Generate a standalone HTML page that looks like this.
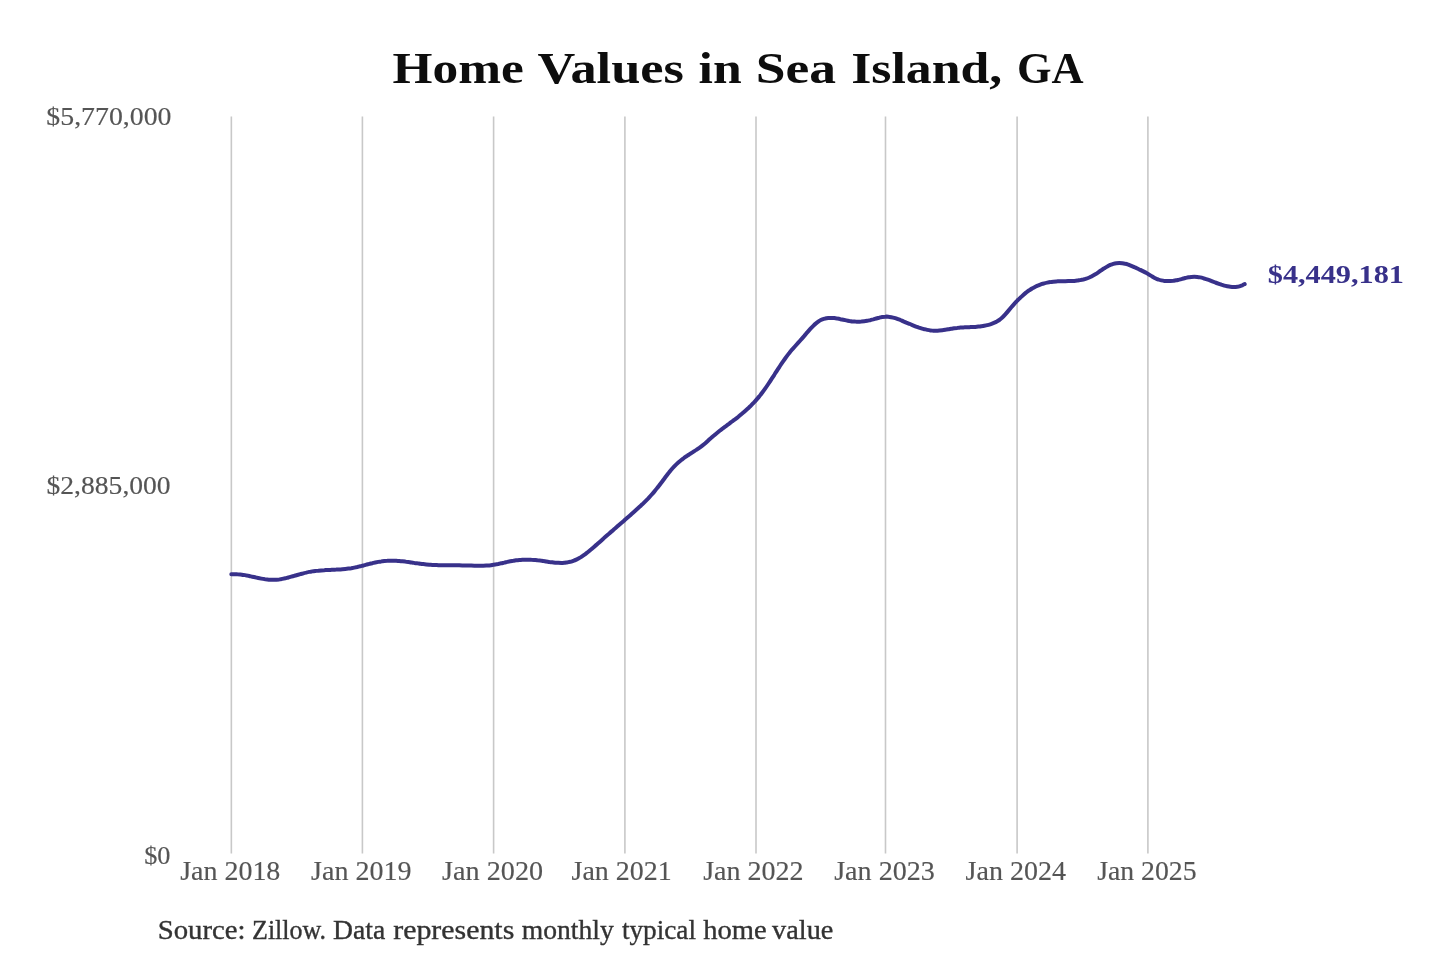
<!DOCTYPE html>
<html><head><meta charset="utf-8"><style>
html,body{margin:0;padding:0;background:#fff;width:1440px;height:960px;overflow:hidden}
svg{display:block;will-change:transform}
text{font-family:"Liberation Serif",serif}
</style></head><body>
<svg width="1440" height="960" viewBox="0 0 1440 960">
<rect width="1440" height="960" fill="#fff"/>
<g stroke="#c8c8c8" stroke-width="1.6">
<line x1="231.35" y1="116.5" x2="231.35" y2="853.5"/>
<line x1="362.40" y1="116.5" x2="362.40" y2="853.5"/>
<line x1="493.60" y1="116.5" x2="493.60" y2="853.5"/>
<line x1="624.90" y1="116.5" x2="624.90" y2="853.5"/>
<line x1="756.00" y1="116.5" x2="756.00" y2="853.5"/>
<line x1="885.50" y1="116.5" x2="885.50" y2="853.5"/>
<line x1="1017.10" y1="116.5" x2="1017.10" y2="853.5"/>
<line x1="1147.90" y1="116.5" x2="1147.90" y2="853.5"/>
</g>
<text x="392.56" y="82.75" font-size="43.4" font-weight="bold" fill="#0d0d0d" textLength="131.21" lengthAdjust="spacingAndGlyphs">Home</text>
<text x="537.43" y="82.75" font-size="43.4" font-weight="bold" fill="#0d0d0d" textLength="146.46" lengthAdjust="spacingAndGlyphs">Values</text>
<text x="698.57" y="82.75" font-size="43.4" font-weight="bold" fill="#0d0d0d" textLength="43.12" lengthAdjust="spacingAndGlyphs">in</text>
<text x="755.66" y="82.75" font-size="43.4" font-weight="bold" fill="#0d0d0d" textLength="80.38" lengthAdjust="spacingAndGlyphs">Sea</text>
<text x="851.17" y="82.75" font-size="43.4" font-weight="bold" fill="#0d0d0d" textLength="151.08" lengthAdjust="spacingAndGlyphs">Island,</text>
<text x="1017.01" y="82.75" font-size="43.4" font-weight="bold" fill="#0d0d0d" textLength="66.59" lengthAdjust="spacingAndGlyphs">GA</text>
<text x="46.35" y="124.8" font-size="26" font-weight="normal" fill="#555" stroke="#555" stroke-width="0.15" textLength="125.08" lengthAdjust="spacingAndGlyphs">$5,770,000</text>
<text x="46.56" y="493.8" font-size="26" font-weight="normal" fill="#555" stroke="#555" stroke-width="0.15" textLength="124.10" lengthAdjust="spacingAndGlyphs">$2,885,000</text>
<text x="144.21" y="863.6" font-size="26" font-weight="normal" fill="#555" stroke="#555" stroke-width="0.15" textLength="26.27" lengthAdjust="spacingAndGlyphs">$0</text>
<text x="180.17" y="879.7" font-size="26.5" font-weight="normal" fill="#555" stroke="#555" stroke-width="0.15" textLength="100.20" lengthAdjust="spacingAndGlyphs">Jan 2018</text>
<text x="311.14" y="879.7" font-size="26.5" font-weight="normal" fill="#555" stroke="#555" stroke-width="0.15" textLength="100.47" lengthAdjust="spacingAndGlyphs">Jan 2019</text>
<text x="442.14" y="879.7" font-size="26.5" font-weight="normal" fill="#555" stroke="#555" stroke-width="0.15" textLength="101.02" lengthAdjust="spacingAndGlyphs">Jan 2020</text>
<text x="571.59" y="879.7" font-size="26.5" font-weight="normal" fill="#555" stroke="#555" stroke-width="0.15" textLength="100.18" lengthAdjust="spacingAndGlyphs">Jan 2021</text>
<text x="703.20" y="879.7" font-size="26.5" font-weight="normal" fill="#555" stroke="#555" stroke-width="0.15" textLength="100.41" lengthAdjust="spacingAndGlyphs">Jan 2022</text>
<text x="834.17" y="879.7" font-size="26.5" font-weight="normal" fill="#555" stroke="#555" stroke-width="0.15" textLength="100.71" lengthAdjust="spacingAndGlyphs">Jan 2023</text>
<text x="965.61" y="879.7" font-size="26.5" font-weight="normal" fill="#555" stroke="#555" stroke-width="0.15" textLength="100.32" lengthAdjust="spacingAndGlyphs">Jan 2024</text>
<text x="1097.17" y="879.7" font-size="26.5" font-weight="normal" fill="#555" stroke="#555" stroke-width="0.15" textLength="99.39" lengthAdjust="spacingAndGlyphs">Jan 2025</text>
<text x="1267.79" y="283.0" font-size="26" font-weight="bold" fill="#38318a" textLength="136.19" lengthAdjust="spacingAndGlyphs">$4,449,181</text>
<text x="157.70" y="938.8" font-size="27" font-weight="normal" fill="#333" stroke="#333" stroke-width="0.35" textLength="87.89" lengthAdjust="spacingAndGlyphs">Source:</text>
<text x="252.03" y="938.8" font-size="27" font-weight="normal" fill="#333" stroke="#333" stroke-width="0.35" textLength="74.06" lengthAdjust="spacingAndGlyphs">Zillow.</text>
<text x="333.06" y="938.8" font-size="27" font-weight="normal" fill="#333" stroke="#333" stroke-width="0.35" textLength="52.22" lengthAdjust="spacingAndGlyphs">Data</text>
<text x="393.20" y="938.8" font-size="27" font-weight="normal" fill="#333" stroke="#333" stroke-width="0.35" textLength="121.10" lengthAdjust="spacingAndGlyphs">represents</text>
<text x="521.81" y="938.8" font-size="27" font-weight="normal" fill="#333" stroke="#333" stroke-width="0.35" textLength="91.95" lengthAdjust="spacingAndGlyphs">monthly</text>
<text x="621.95" y="938.8" font-size="27" font-weight="normal" fill="#333" stroke="#333" stroke-width="0.35" textLength="74.08" lengthAdjust="spacingAndGlyphs">typical</text>
<text x="703.31" y="938.8" font-size="27" font-weight="normal" fill="#333" stroke="#333" stroke-width="0.35" textLength="63.49" lengthAdjust="spacingAndGlyphs">home</text>
<text x="772.14" y="938.8" font-size="27" font-weight="normal" fill="#333" stroke="#333" stroke-width="0.35" textLength="61.23" lengthAdjust="spacingAndGlyphs">value</text>

<path d="M231.3,574.3 C231.8,574.3 233.3,574.2 234.3,574.2 C235.3,574.2 236.3,574.2 237.3,574.3 C238.3,574.3 239.3,574.4 240.3,574.5 C241.3,574.6 242.3,574.8 243.3,574.9 C244.3,575.1 245.3,575.3 246.3,575.4 C247.3,575.6 248.3,575.8 249.3,576.0 C250.3,576.2 251.3,576.5 252.3,576.7 C253.3,576.9 254.3,577.1 255.3,577.3 C256.3,577.6 257.3,577.8 258.3,578.0 C259.3,578.2 260.3,578.4 261.3,578.6 C262.3,578.8 263.3,579.0 264.3,579.1 C265.3,579.3 266.3,579.4 267.3,579.5 C268.3,579.6 269.3,579.7 270.3,579.8 C271.3,579.8 272.3,579.9 273.3,579.8 C274.3,579.8 275.3,579.8 276.3,579.7 C277.3,579.6 278.3,579.5 279.3,579.4 C280.3,579.2 281.3,579.1 282.3,578.9 C283.3,578.7 284.3,578.5 285.3,578.3 C286.3,578.0 287.3,577.8 288.3,577.5 C289.3,577.3 290.3,577.0 291.3,576.7 C292.3,576.4 293.3,576.1 294.3,575.8 C295.3,575.6 296.3,575.3 297.3,575.0 C298.3,574.7 299.3,574.4 300.3,574.1 C301.3,573.8 302.3,573.6 303.3,573.3 C304.3,573.0 305.3,572.8 306.3,572.6 C307.3,572.3 308.3,572.1 309.3,571.9 C310.3,571.7 311.3,571.6 312.3,571.4 C313.3,571.2 314.3,571.1 315.3,571.0 C316.3,570.9 317.3,570.7 318.3,570.7 C319.3,570.6 320.3,570.5 321.3,570.4 C322.3,570.3 323.3,570.2 324.3,570.2 C325.3,570.1 326.3,570.1 327.3,570.0 C328.3,570.0 329.3,569.9 330.3,569.9 C331.3,569.8 332.3,569.8 333.3,569.7 C334.3,569.7 335.3,569.6 336.3,569.6 C337.3,569.5 338.3,569.5 339.3,569.4 C340.3,569.4 341.3,569.3 342.3,569.2 C343.3,569.1 344.3,569.0 345.3,568.9 C346.3,568.8 347.3,568.7 348.3,568.6 C349.3,568.5 350.3,568.3 351.3,568.2 C352.3,568.0 353.3,567.8 354.3,567.6 C355.3,567.4 356.3,567.2 357.3,567.0 C358.3,566.7 359.3,566.5 360.3,566.3 C361.3,566.0 362.3,565.8 363.3,565.5 C364.3,565.2 365.3,565.0 366.3,564.7 C367.3,564.4 368.3,564.2 369.3,563.9 C370.3,563.7 371.3,563.4 372.3,563.2 C373.3,562.9 374.3,562.7 375.3,562.5 C376.3,562.3 377.3,562.1 378.3,561.9 C379.3,561.7 380.3,561.5 381.3,561.4 C382.3,561.2 383.3,561.1 384.3,561.0 C385.3,560.9 386.3,560.8 387.3,560.8 C388.3,560.7 389.3,560.7 390.3,560.7 C391.3,560.6 392.3,560.7 393.3,560.7 C394.3,560.7 395.3,560.7 396.3,560.8 C397.3,560.9 398.3,560.9 399.3,561.0 C400.3,561.1 401.3,561.2 402.3,561.3 C403.3,561.4 404.3,561.5 405.3,561.6 C406.3,561.8 407.3,561.9 408.3,562.0 C409.3,562.1 410.3,562.3 411.3,562.4 C412.3,562.6 413.3,562.7 414.3,562.9 C415.3,563.0 416.3,563.1 417.3,563.3 C418.3,563.4 419.3,563.6 420.3,563.7 C421.3,563.8 422.3,564.0 423.3,564.1 C424.3,564.2 425.3,564.3 426.3,564.4 C427.3,564.5 428.3,564.6 429.3,564.7 C430.3,564.8 431.3,564.8 432.3,564.9 C433.3,565.0 434.3,565.0 435.3,565.0 C436.3,565.1 437.3,565.1 438.3,565.2 C439.3,565.2 440.3,565.2 441.3,565.2 C442.3,565.3 443.3,565.3 444.3,565.3 C445.3,565.3 446.3,565.3 447.3,565.3 C448.3,565.3 449.3,565.3 450.3,565.3 C451.3,565.3 452.3,565.3 453.3,565.3 C454.3,565.3 455.3,565.3 456.3,565.3 C457.3,565.3 458.3,565.3 459.3,565.3 C460.3,565.4 461.3,565.4 462.3,565.4 C463.3,565.4 464.3,565.4 465.3,565.4 C466.3,565.5 467.3,565.5 468.3,565.5 C469.3,565.6 470.3,565.6 471.3,565.6 C472.3,565.7 473.3,565.7 474.3,565.7 C475.3,565.7 476.3,565.8 477.3,565.8 C478.3,565.8 479.3,565.8 480.3,565.8 C481.3,565.8 482.3,565.8 483.3,565.7 C484.3,565.7 485.3,565.7 486.3,565.6 C487.3,565.5 488.3,565.5 489.3,565.4 C490.3,565.3 491.3,565.2 492.3,565.0 C493.3,564.9 494.3,564.7 495.3,564.5 C496.3,564.4 497.3,564.2 498.3,564.0 C499.3,563.7 500.3,563.5 501.3,563.3 C502.3,563.1 503.3,562.8 504.3,562.6 C505.3,562.4 506.3,562.1 507.3,561.9 C508.3,561.7 509.3,561.5 510.3,561.3 C511.3,561.1 512.3,560.9 513.3,560.8 C514.3,560.6 515.3,560.5 516.3,560.3 C517.3,560.2 518.3,560.1 519.3,560.0 C520.3,559.9 521.3,559.9 522.3,559.8 C523.3,559.8 524.3,559.7 525.3,559.7 C526.3,559.7 527.3,559.7 528.3,559.7 C529.3,559.7 530.3,559.7 531.3,559.8 C532.3,559.8 533.3,559.9 534.3,560.0 C535.3,560.1 536.3,560.1 537.3,560.3 C538.3,560.4 539.3,560.5 540.3,560.6 C541.3,560.8 542.3,560.9 543.3,561.1 C544.3,561.2 545.3,561.4 546.3,561.5 C547.3,561.7 548.3,561.8 549.3,562.0 C550.3,562.1 551.3,562.2 552.3,562.3 C553.3,562.5 554.3,562.6 555.3,562.7 C556.3,562.7 557.3,562.8 558.3,562.8 C559.3,562.9 560.3,562.9 561.3,562.9 C562.3,562.9 563.3,562.8 564.3,562.7 C565.3,562.7 566.3,562.5 567.3,562.4 C568.3,562.2 569.3,562.0 570.3,561.8 C571.3,561.5 572.3,561.2 573.3,560.8 C574.3,560.5 575.3,560.1 576.3,559.6 C577.3,559.1 578.3,558.6 579.3,558.0 C580.3,557.5 581.3,556.8 582.3,556.2 C583.3,555.5 584.3,554.8 585.3,554.1 C586.3,553.3 587.3,552.6 588.3,551.8 C589.3,551.0 590.3,550.1 591.3,549.3 C592.3,548.4 593.3,547.6 594.3,546.7 C595.3,545.8 596.3,544.9 597.3,544.1 C598.3,543.2 599.3,542.3 600.3,541.4 C601.3,540.5 602.3,539.6 603.3,538.7 C604.3,537.9 605.3,537.0 606.3,536.1 C607.3,535.2 608.3,534.3 609.3,533.5 C610.3,532.6 611.3,531.7 612.3,530.9 C613.3,530.0 614.3,529.1 615.3,528.3 C616.3,527.4 617.3,526.5 618.3,525.6 C619.3,524.8 620.3,523.9 621.3,523.0 C622.3,522.2 623.3,521.3 624.3,520.4 C625.3,519.6 626.3,518.7 627.3,517.8 C628.3,516.9 629.3,516.1 630.3,515.2 C631.3,514.3 632.3,513.4 633.3,512.5 C634.3,511.6 635.3,510.7 636.3,509.8 C637.3,508.9 638.3,508.0 639.3,507.1 C640.3,506.2 641.3,505.2 642.3,504.3 C643.3,503.3 644.3,502.3 645.3,501.3 C646.3,500.3 647.3,499.3 648.3,498.3 C649.3,497.2 650.3,496.1 651.3,495.0 C652.3,493.9 653.3,492.8 654.3,491.6 C655.3,490.4 656.3,489.2 657.3,487.9 C658.3,486.7 659.3,485.4 660.3,484.0 C661.3,482.7 662.3,481.4 663.3,480.0 C664.3,478.7 665.3,477.3 666.3,476.0 C667.3,474.7 668.3,473.4 669.3,472.1 C670.3,470.9 671.3,469.7 672.3,468.5 C673.3,467.4 674.3,466.3 675.3,465.3 C676.3,464.3 677.3,463.4 678.3,462.5 C679.3,461.6 680.3,460.8 681.3,460.0 C682.3,459.2 683.3,458.5 684.3,457.7 C685.3,457.0 686.3,456.3 687.3,455.7 C688.3,455.0 689.3,454.4 690.3,453.7 C691.3,453.1 692.3,452.5 693.3,451.8 C694.3,451.2 695.3,450.5 696.3,449.9 C697.3,449.2 698.3,448.5 699.3,447.8 C700.3,447.1 701.3,446.4 702.3,445.6 C703.3,444.8 704.3,444.0 705.3,443.2 C706.3,442.3 707.3,441.4 708.3,440.5 C709.3,439.6 710.3,438.6 711.3,437.8 C712.3,436.9 713.3,436.0 714.3,435.2 C715.3,434.3 716.3,433.5 717.3,432.7 C718.3,431.9 719.3,431.1 720.3,430.3 C721.3,429.6 722.3,428.8 723.3,428.0 C724.3,427.3 725.3,426.5 726.3,425.8 C727.3,425.1 728.3,424.3 729.3,423.6 C730.3,422.8 731.3,422.1 732.3,421.3 C733.3,420.6 734.3,419.8 735.3,419.1 C736.3,418.3 737.3,417.5 738.3,416.8 C739.3,416.0 740.3,415.2 741.3,414.3 C742.3,413.5 743.3,412.7 744.3,411.8 C745.3,410.9 746.3,410.0 747.3,409.1 C748.3,408.2 749.3,407.2 750.3,406.3 C751.3,405.3 752.3,404.3 753.3,403.2 C754.3,402.1 755.3,401.1 756.3,399.9 C757.3,398.8 758.3,397.6 759.3,396.4 C760.3,395.1 761.3,393.9 762.3,392.5 C763.3,391.2 764.3,389.8 765.3,388.4 C766.3,387.0 767.3,385.5 768.3,384.0 C769.3,382.5 770.3,381.0 771.3,379.4 C772.3,377.9 773.3,376.3 774.3,374.8 C775.3,373.2 776.3,371.7 777.3,370.1 C778.3,368.6 779.3,367.0 780.3,365.5 C781.3,364.0 782.3,362.5 783.3,361.1 C784.3,359.7 785.3,358.3 786.3,356.9 C787.3,355.5 788.3,354.2 789.3,353.0 C790.3,351.7 791.3,350.5 792.3,349.3 C793.3,348.2 794.3,347.1 795.3,346.0 C796.3,344.9 797.3,343.8 798.3,342.7 C799.3,341.6 800.3,340.5 801.3,339.3 C802.3,338.2 803.3,337.0 804.3,335.9 C805.3,334.7 806.3,333.5 807.3,332.3 C808.3,331.2 809.3,330.0 810.3,328.9 C811.3,327.8 812.3,326.8 813.3,325.8 C814.3,324.8 815.3,323.9 816.3,323.1 C817.3,322.3 818.3,321.6 819.3,320.9 C820.3,320.3 821.3,319.8 822.3,319.4 C823.3,319.0 824.3,318.7 825.3,318.5 C826.3,318.2 827.3,318.1 828.3,318.0 C829.3,317.9 830.3,317.9 831.3,317.9 C832.3,317.9 833.3,318.0 834.3,318.1 C835.3,318.2 836.3,318.4 837.3,318.6 C838.3,318.7 839.3,318.9 840.3,319.2 C841.3,319.4 842.3,319.6 843.3,319.8 C844.3,320.0 845.3,320.2 846.3,320.4 C847.3,320.6 848.3,320.8 849.3,321.0 C850.3,321.1 851.3,321.3 852.3,321.4 C853.3,321.5 854.3,321.5 855.3,321.6 C856.3,321.6 857.3,321.7 858.3,321.7 C859.3,321.7 860.3,321.6 861.3,321.6 C862.3,321.5 863.3,321.4 864.3,321.3 C865.3,321.2 866.3,321.0 867.3,320.8 C868.3,320.7 869.3,320.4 870.3,320.2 C871.3,319.9 872.3,319.6 873.3,319.4 C874.3,319.1 875.3,318.8 876.3,318.5 C877.3,318.2 878.3,317.9 879.3,317.7 C880.3,317.4 881.3,317.2 882.3,317.0 C883.3,316.8 884.3,316.7 885.3,316.7 C886.3,316.6 887.3,316.6 888.3,316.7 C889.3,316.8 890.3,317.0 891.3,317.2 C892.3,317.4 893.3,317.6 894.3,317.9 C895.3,318.2 896.3,318.5 897.3,318.9 C898.3,319.3 899.3,319.6 900.3,320.0 C901.3,320.4 902.3,320.9 903.3,321.3 C904.3,321.7 905.3,322.1 906.3,322.6 C907.3,323.0 908.3,323.4 909.3,323.8 C910.3,324.3 911.3,324.7 912.3,325.1 C913.3,325.5 914.3,325.9 915.3,326.3 C916.3,326.7 917.3,327.0 918.3,327.4 C919.3,327.7 920.3,328.1 921.3,328.4 C922.3,328.7 923.3,329.0 924.3,329.2 C925.3,329.5 926.3,329.7 927.3,329.9 C928.3,330.1 929.3,330.3 930.3,330.4 C931.3,330.6 932.3,330.6 933.3,330.7 C934.3,330.7 935.3,330.7 936.3,330.7 C937.3,330.7 938.3,330.6 939.3,330.5 C940.3,330.4 941.3,330.3 942.3,330.2 C943.3,330.1 944.3,329.9 945.3,329.7 C946.3,329.6 947.3,329.4 948.3,329.2 C949.3,329.0 950.3,328.9 951.3,328.7 C952.3,328.5 953.3,328.4 954.3,328.2 C955.3,328.1 956.3,328.0 957.3,327.9 C958.3,327.7 959.3,327.7 960.3,327.6 C961.3,327.5 962.3,327.5 963.3,327.4 C964.3,327.4 965.3,327.3 966.3,327.3 C967.3,327.3 968.3,327.2 969.3,327.2 C970.3,327.1 971.3,327.1 972.3,327.0 C973.3,327.0 974.3,326.9 975.3,326.9 C976.3,326.8 977.3,326.7 978.3,326.6 C979.3,326.5 980.3,326.4 981.3,326.2 C982.3,326.1 983.3,326.0 984.3,325.8 C985.3,325.6 986.3,325.4 987.3,325.1 C988.3,324.9 989.3,324.6 990.3,324.3 C991.3,324.0 992.3,323.6 993.3,323.2 C994.3,322.8 995.3,322.4 996.3,321.9 C997.3,321.3 998.3,320.7 999.3,320.0 C1000.3,319.3 1001.3,318.4 1002.3,317.5 C1003.3,316.6 1004.3,315.5 1005.3,314.4 C1006.3,313.3 1007.3,312.1 1008.3,310.9 C1009.3,309.7 1010.3,308.5 1011.3,307.3 C1012.3,306.1 1013.3,305.0 1014.3,303.9 C1015.3,302.8 1016.3,301.7 1017.3,300.7 C1018.3,299.6 1019.3,298.6 1020.3,297.7 C1021.3,296.7 1022.3,295.8 1023.3,294.9 C1024.3,294.0 1025.3,293.2 1026.3,292.4 C1027.3,291.7 1028.3,290.9 1029.3,290.3 C1030.3,289.6 1031.3,288.9 1032.3,288.4 C1033.3,287.8 1034.3,287.2 1035.3,286.7 C1036.3,286.2 1037.3,285.8 1038.3,285.4 C1039.3,284.9 1040.3,284.6 1041.3,284.2 C1042.3,283.9 1043.3,283.6 1044.3,283.3 C1045.3,283.0 1046.3,282.8 1047.3,282.6 C1048.3,282.4 1049.3,282.2 1050.3,282.1 C1051.3,281.9 1052.3,281.8 1053.3,281.7 C1054.3,281.6 1055.3,281.5 1056.3,281.4 C1057.3,281.4 1058.3,281.3 1059.3,281.3 C1060.3,281.3 1061.3,281.2 1062.3,281.2 C1063.3,281.2 1064.3,281.2 1065.3,281.2 C1066.3,281.2 1067.3,281.2 1068.3,281.1 C1069.3,281.1 1070.3,281.1 1071.3,281.0 C1072.3,281.0 1073.3,280.9 1074.3,280.9 C1075.3,280.8 1076.3,280.7 1077.3,280.6 C1078.3,280.4 1079.3,280.3 1080.3,280.1 C1081.3,279.9 1082.3,279.7 1083.3,279.5 C1084.3,279.2 1085.3,278.9 1086.3,278.6 C1087.3,278.3 1088.3,277.9 1089.3,277.5 C1090.3,277.0 1091.3,276.6 1092.3,276.0 C1093.3,275.5 1094.3,274.9 1095.3,274.3 C1096.3,273.7 1097.3,273.0 1098.3,272.3 C1099.3,271.6 1100.3,270.9 1101.3,270.3 C1102.3,269.6 1103.3,268.9 1104.3,268.3 C1105.3,267.6 1106.3,267.0 1107.3,266.5 C1108.3,265.9 1109.3,265.4 1110.3,264.9 C1111.3,264.5 1112.3,264.1 1113.3,263.8 C1114.3,263.5 1115.3,263.3 1116.3,263.2 C1117.3,263.1 1118.3,263.0 1119.3,263.0 C1120.3,263.0 1121.3,263.1 1122.3,263.2 C1123.3,263.3 1124.3,263.5 1125.3,263.8 C1126.3,264.0 1127.3,264.3 1128.3,264.6 C1129.3,265.0 1130.3,265.4 1131.3,265.8 C1132.3,266.2 1133.3,266.6 1134.3,267.1 C1135.3,267.5 1136.3,268.0 1137.3,268.5 C1138.3,269.0 1139.3,269.4 1140.3,269.9 C1141.3,270.4 1142.3,270.9 1143.3,271.4 C1144.3,271.9 1145.3,272.4 1146.3,272.9 C1147.3,273.5 1148.3,274.1 1149.3,274.7 C1150.3,275.3 1151.3,276.0 1152.3,276.6 C1153.3,277.1 1154.3,277.7 1155.3,278.2 C1156.3,278.7 1157.3,279.2 1158.3,279.5 C1159.3,279.9 1160.3,280.2 1161.3,280.4 C1162.3,280.6 1163.3,280.8 1164.3,280.9 C1165.3,281.0 1166.3,281.1 1167.3,281.1 C1168.3,281.1 1169.3,281.1 1170.3,281.1 C1171.3,281.0 1172.3,280.9 1173.3,280.8 C1174.3,280.6 1175.3,280.5 1176.3,280.3 C1177.3,280.1 1178.3,279.8 1179.3,279.6 C1180.3,279.4 1181.3,279.1 1182.3,278.8 C1183.3,278.6 1184.3,278.3 1185.3,278.0 C1186.3,277.8 1187.3,277.5 1188.3,277.3 C1189.3,277.1 1190.3,277.0 1191.3,276.9 C1192.3,276.8 1193.3,276.7 1194.3,276.7 C1195.3,276.7 1196.3,276.8 1197.3,276.9 C1198.3,277.0 1199.3,277.2 1200.3,277.4 C1201.3,277.6 1202.3,277.9 1203.3,278.2 C1204.3,278.4 1205.3,278.8 1206.3,279.1 C1207.3,279.4 1208.3,279.8 1209.3,280.1 C1210.3,280.5 1211.3,280.9 1212.3,281.3 C1213.3,281.7 1214.3,282.1 1215.3,282.5 C1216.3,282.8 1217.3,283.2 1218.3,283.6 C1219.3,284.0 1220.3,284.3 1221.3,284.7 C1222.3,285.0 1223.3,285.3 1224.3,285.6 C1225.3,285.9 1226.3,286.1 1227.3,286.3 C1228.3,286.5 1229.3,286.7 1230.3,286.8 C1231.3,286.9 1232.3,287.0 1233.3,287.0 C1234.3,287.0 1235.3,287.0 1236.3,286.9 C1237.3,286.7 1238.3,286.6 1239.3,286.3 C1240.3,286.0 1241.4,285.6 1242.3,285.3 C1243.2,284.9 1244.3,284.3 1244.7,284.1" fill="none" stroke="#38318a" stroke-width="4" stroke-linejoin="round" stroke-linecap="round"/>
</svg>
</body></html>
